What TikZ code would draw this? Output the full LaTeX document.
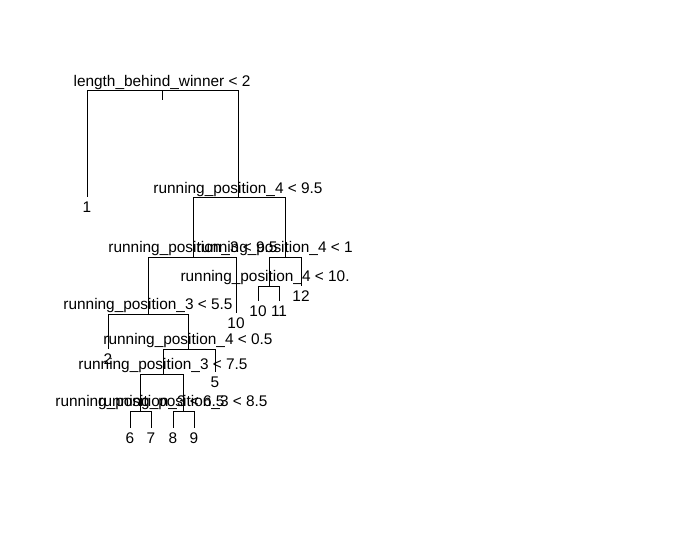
\documentclass[tikz,border=0pt]{standalone}
\usepackage{fontspec}
\setmainfont{Liberation Sans}
\begin{document}
\begin{tikzpicture}[x=1bp, y=-1bp, line width=1bp,
    split/.style={anchor=base, inner sep=0pt, font=\fontsize{15.4bp}{18bp}\selectfont},
    leaf/.style={anchor=base, inner sep=0pt, font=\fontsize{15.4bp}{18bp}\selectfont}]
  \useasboundingbox[fill=white] (0,0) rectangle (700,541);

  % split points
  \coordinate (root) at (162, 91);
  \coordinate (stem) at (162, 100);
  \coordinate (n3) at (238, 198);
  \coordinate (n6) at (193, 257);
  \coordinate (n7) at (285, 257);
  \coordinate (n12) at (148, 314);
  \coordinate (n14) at (269, 286);
  \coordinate (n25) at (188, 349);
  \coordinate (n50) at (163, 374);
  \coordinate (n100) at (140, 411);
  \coordinate (n101) at (183, 411);

  % leaves
  \coordinate (l2) at (87, 197);
  \coordinate (l13) at (236, 313);
  \coordinate (l15) at (301, 286);
  \coordinate (l24) at (108, 349);
  \coordinate (l28) at (258, 301);
  \coordinate (l29) at (279, 301);
  \coordinate (l51) at (215, 372);
  \coordinate (l200) at (130, 428);
  \coordinate (l201) at (151, 428);
  \coordinate (l202) at (173, 428);
  \coordinate (l203) at (194, 428);

  % branches
  \draw (root) -- (stem);
  \draw (root) -| (l2);
  \draw (root) -| (n3);
  \draw (n3) -| (n6);
  \draw (n3) -| (n7);
  \draw (n6) -| (n12);
  \draw (n6) -| (l13);
  \draw (n7) -| (n14);
  \draw (n7) -| (l15);
  \draw (n12) -| (l24);
  \draw (n12) -| (n25);
  \draw (n14) -| (l28);
  \draw (n14) -| (l29);
  \draw (n25) -| (n50);
  \draw (n25) -| (l51);
  \draw (n50) -| (n100);
  \draw (n50) -| (n101);
  \draw (n100) -| (l200);
  \draw (n100) -| (l201);
  \draw (n101) -| (l202);
  \draw (n101) -| (l203);

  % split labels
  \node[split] (t1) at ([yshift=4.5bp]root) {length\_behind\_winner < 2};
  \node[split] (t3) at ([yshift=4.5bp]n3) {running\_position\_4 < 9.5};
  \node[split] (t6) at ([yshift=4.5bp]n6) {running\_position\_3 < 9.5};
  \node[split, anchor=base west] (t7) at ([xshift=-89bp, yshift=4.5bp]n7) {running\_position\_4 < 1};
  \node[split, anchor=base west] (t14) at ([xshift=-89bp, yshift=4.5bp]n14) {running\_position\_4 < 10.};
  \node[split] (t12) at ([yshift=4.5bp]n12) {running\_position\_3 < 5.5};
  \node[split] (t25) at ([yshift=4.5bp]n25) {running\_position\_4 < 0.5};
  \node[split] (t50) at ([yshift=4.5bp]n50) {running\_position\_3 < 7.5};
  \node[split] (t100) at ([yshift=4.5bp]n100) {running\_position\_3 < 6.5};
  \node[split] (t101) at ([yshift=4.5bp]n101) {running\_position\_3 < 8.5};

  % leaf labels
  \node[leaf] (v2) at ([yshift=-15.5bp]l2) {1};
  \node[leaf] (v13) at ([yshift=-15.5bp]l13) {10};
  \node[leaf] (v15) at ([yshift=-15.5bp]l15) {12};
  \node[leaf] (v24) at ([yshift=-15.5bp]l24) {2};
  \node[leaf] (v28) at ([yshift=-15.5bp]l28) {10};
  \node[leaf] (v29) at ([yshift=-15.5bp]l29) {11};
  \node[leaf] (v51) at ([yshift=-15.5bp]l51) {5};
  \node[leaf] (v200) at ([yshift=-15.5bp]l200) {6};
  \node[leaf] (v201) at ([yshift=-15.5bp]l201) {7};
  \node[leaf] (v202) at ([yshift=-15.5bp]l202) {8};
  \node[leaf] (v203) at ([yshift=-15.5bp]l203) {9};
\end{tikzpicture}
\end{document}
